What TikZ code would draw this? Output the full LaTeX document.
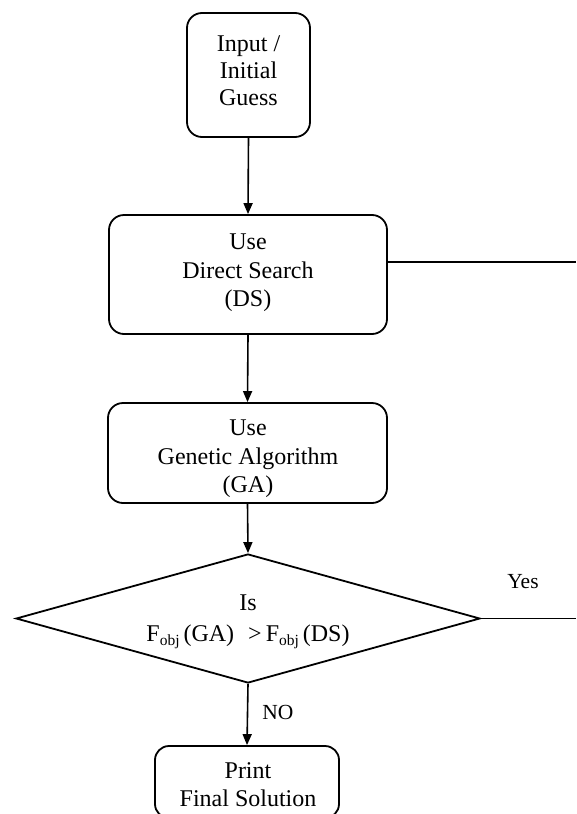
\documentclass[tikz,border=0pt]{standalone}
\usepackage{fontspec}
\setmainfont{Liberation Serif}
\usetikzlibrary{shapes.geometric,arrows.meta}

% subscript "obj" used in the decision condition
\newcommand{\objsub}{\raisebox{-4.5pt}{\fontsize{15.5}{15.5}\selectfont obj}}

\tikzset{
  box/.style={draw, line width=1.8pt, rounded corners=15pt, inner sep=0pt},
  decision/.style={draw, diamond, line width=1.8pt, inner sep=0pt},
  lbl/.style={font=\fontsize{24}{28.5}\selectfont, align=center, inner sep=0pt},
  flow/.style={line width=1.6pt, -{Triangle[length=11pt,width=9pt]}},
  plain/.style={line width=1.6pt},
}

\begin{document}
\begin{tikzpicture}[x=1pt,y=-1pt]
\useasboundingbox (0,0) rectangle (576,814);

% boxes
\node[box, minimum width=123pt, minimum height=124pt] (input) at (248.5,75) {};
\node[lbl, font=\fontsize{24}{27}\selectfont] (inputtxt) at (248.5,71) {Input /\\Initial\\Guess};

\node[box, minimum width=278pt, minimum height=119pt] (ds) at (248,274.5) {};
\node[lbl] (dstxt) at (248,273) {Use\\Direct Search\\(DS)};

\node[box, minimum width=279pt, minimum height=100pt] (ga) at (247.5,453) {};
\node[lbl] (gatxt) at (248,459) {Use\\Genetic Algorithm\\(GA)};

\node[decision, minimum width=464pt, minimum height=129pt] (dia) at (248,618.5) {};
\node[lbl] (diatxt) at (248,622) {Is\\[2pt]F\objsub\,(GA)\, \,>\,F\objsub\,(DS)};

\node[box, rounded corners=14pt, minimum width=184pt, minimum height=72pt] (print) at (247,782) {};
\node[lbl, font=\fontsize{24}{28}\selectfont] (printtxt) at (248,785) {Print\\Final Solution};

% branch labels
\node[lbl, font=\fontsize{21.5}{24}\selectfont] (yes) at (523,582) {Yes};
\node[lbl, font=\fontsize{21.5}{24}\selectfont] (no) at (278,712) {NO};

% free ends of the branches leaving to the right
\coordinate (dsout) at (576,262);
\coordinate (yesout) at (576,618.5);

% connectors
\draw[flow] (input.south) -- (ds.north);
\draw[flow] (ds.south) -- (ga.north);
\draw[flow] (ga.south) -- (dia.north);
\draw[flow] (dia.south) -- (print.north);
\draw[plain] (dsout -| ds.east) -- (dsout);
\draw[plain] (dia.east) -- (yesout);
\end{tikzpicture}
\end{document}
